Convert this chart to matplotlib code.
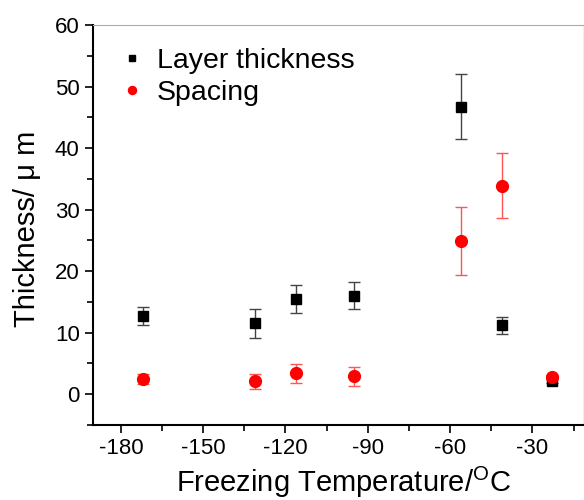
import numpy as np
import matplotlib
matplotlib.use("Agg")
import matplotlib.pyplot as plt
from matplotlib.ticker import MultipleLocator

plt.rcParams['font.family'] = ['Liberation Sans', 'DejaVu Sans']
plt.rcParams['mathtext.fontset'] = 'custom'
plt.rcParams['mathtext.rm'] = 'Liberation Sans'
plt.rcParams['axes.unicode_minus'] = False

# freezing temperatures (deg C)
temps = [-172, -131, -116, -95, -56, -41, -23]

# layer thickness (um) and error
thick = [12.7, 11.5, 15.5, 16.0, 46.7, 11.2, 2.1]
thick_err = [1.5, 2.3, 2.3, 2.2, 5.3, 1.4, 0.3]

# spacing (um) and error
spacing = [2.5, 2.1, 3.4, 2.9, 24.9, 33.9, 2.8]
spacing_err = [0.8, 1.2, 1.5, 1.6, 5.6, 5.3, 0.3]

fig = plt.figure(figsize=(5.84, 5.0), dpi=100)
ax = fig.add_axes([0.159, 0.15, 0.84, 0.80])

eb1 = ax.errorbar(temps, thick, yerr=thick_err, fmt='s', color='black',
                  ecolor='#444444', elinewidth=1.0, capsize=4, capthick=1.0,
                  markersize=7, zorder=3)
eb2 = ax.errorbar(temps, spacing, yerr=spacing_err, fmt='o', color='red',
                  ecolor='#ff5555', elinewidth=1.0, capsize=4, capthick=1.0,
                  markersize=8.5, zorder=4)

ax.set_xlim(-190.2, -11.4)
ax.set_ylim(-5, 60)
ax.xaxis.set_major_locator(MultipleLocator(30))
ax.xaxis.set_minor_locator(MultipleLocator(15))
ax.yaxis.set_major_locator(MultipleLocator(10))
ax.yaxis.set_minor_locator(MultipleLocator(5))

ax.tick_params(which='both', direction='out', labelsize=16, width=1.2)
ax.tick_params(which='major', length=6)
ax.tick_params(which='minor', length=4)

ax.spines['left'].set_linewidth(1.5)
ax.spines['bottom'].set_linewidth(1.5)
ax.spines['top'].set_color('#aaaaaa')
ax.spines['right'].set_color('#eeeeee')

ax.set_xlabel('Freezing Temperature/$\\mathregular{^{O}}$C', fontsize=21)
ax.set_ylabel('Thickness/ \u03bc m', fontsize=21)
ax.xaxis.set_label_coords(0.51, -0.1)
ax.yaxis.set_label_coords(-0.105, 0.49)

ax.legend([eb1[0], eb2[0]], ['Layer thickness', 'Spacing'],
          loc='upper left', frameon=False, fontsize=20.5, markerscale=0.68,
          handlelength=0.6, handletextpad=0.55, borderaxespad=0.0,
          labelspacing=0.22, bbox_to_anchor=(0.04, 0.972))

fig.savefig('out.png', dpi=100)
